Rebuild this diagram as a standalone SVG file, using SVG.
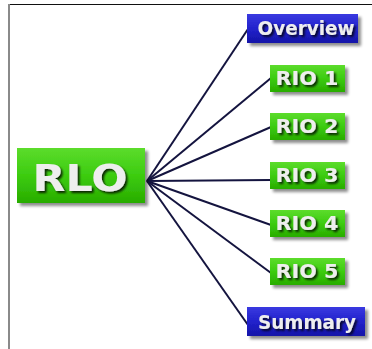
<svg xmlns="http://www.w3.org/2000/svg" width="372" height="349" viewBox="0 0 372 349">
  <defs>
    <linearGradient id="gGreen" x1="0" y1="0" x2="0" y2="1">
      <stop offset="0" stop-color="#5cdc2c"/>
      <stop offset="0.5" stop-color="#3ccc10"/>
      <stop offset="1" stop-color="#28ac00"/>
    </linearGradient>
    <linearGradient id="gBlue" x1="0" y1="0" x2="0" y2="1">
      <stop offset="0" stop-color="#3a3ae0"/>
      <stop offset="0.5" stop-color="#2222cc"/>
      <stop offset="1" stop-color="#1414a8"/>
    </linearGradient>
    <filter id="boxShadow" x="-20%" y="-30%" width="150%" height="170%">
      <feGaussianBlur in="SourceAlpha" stdDeviation="1.5"/>
      <feOffset dx="3" dy="3" result="b"/>
      <feComponentTransfer><feFuncA type="linear" slope="0.45"/></feComponentTransfer>
      <feMerge><feMergeNode/><feMergeNode in="SourceGraphic"/></feMerge>
    </filter>
    <filter id="textShadow" x="-10%" y="-30%" width="130%" height="170%">
      <feGaussianBlur in="SourceAlpha" stdDeviation="0.8"/>
      <feOffset dx="1.5" dy="1.5"/>
      <feComponentTransfer><feFuncA type="linear" slope="0.8"/></feComponentTransfer>
      <feMerge><feMergeNode/><feMergeNode in="SourceGraphic"/></feMerge>
    </filter>
  </defs>
  <style>
    .green { fill: url(#gGreen); filter: url(#boxShadow); }
    .blue { fill: url(#gBlue); filter: url(#boxShadow); }
    .lbl { font-family: "DejaVu Sans", Verdana, sans-serif; font-weight: bold; fill: #eeeeee; text-anchor: middle; filter: url(#textShadow); }
    .small { font-size: 19.5px; }
    .big { font-size: 38px; }
    .link { stroke: #14143f; stroke-width: 2; fill: none; }
  </style>

  <rect width="372" height="349" fill="#ffffff"/>
  <!-- frame edges -->
  <line x1="8" y1="4.5" x2="372" y2="4.5" stroke="#111111" stroke-width="1"/>
  <line x1="9" y1="4" x2="9" y2="349" stroke="#8a8a8a" stroke-width="2"/>

  <g id="connectors">
    <line class="link" x1="147" y1="181" x2="248" y2="29"/>
    <line class="link" x1="147" y1="181" x2="271" y2="78"/>
    <line class="link" x1="147" y1="181" x2="271" y2="127"/>
    <line class="link" x1="147" y1="181" x2="271" y2="180"/>
    <line class="link" x1="147" y1="181" x2="271" y2="225"/>
    <line class="link" x1="147" y1="181" x2="271" y2="273"/>
    <line class="link" x1="147" y1="181" x2="248" y2="325"/>
  </g>

  <g id="rlo">
    <rect class="green" x="17" y="148" width="128" height="55"/>
    <text class="lbl big" x="80" y="191" textLength="95" lengthAdjust="spacingAndGlyphs">RLO</text>
  </g>
  <g id="overview">
    <rect class="blue" x="247" y="14" width="111" height="29"/>
    <text class="lbl small" x="306" y="35" textLength="97" lengthAdjust="spacingAndGlyphs">Overview</text>
  </g>
  <g id="rio1">
    <rect class="green" x="270" y="65" width="75" height="27"/>
    <text class="lbl small" x="307" y="85" textLength="63" lengthAdjust="spacingAndGlyphs">RIO 1</text>
  </g>
  <g id="rio2">
    <rect class="green" x="270" y="113" width="75" height="27"/>
    <text class="lbl small" x="307" y="133" textLength="63" lengthAdjust="spacingAndGlyphs">RIO 2</text>
  </g>
  <g id="rio3">
    <rect class="green" x="270" y="162" width="75" height="27"/>
    <text class="lbl small" x="307" y="182" textLength="63" lengthAdjust="spacingAndGlyphs">RIO 3</text>
  </g>
  <g id="rio4">
    <rect class="green" x="270" y="210" width="75" height="27"/>
    <text class="lbl small" x="307" y="230" textLength="63" lengthAdjust="spacingAndGlyphs">RIO 4</text>
  </g>
  <g id="rio5">
    <rect class="green" x="270" y="258" width="75" height="27"/>
    <text class="lbl small" x="307" y="278" textLength="63" lengthAdjust="spacingAndGlyphs">RIO 5</text>
  </g>
  <g id="summary">
    <rect class="blue" x="247" y="307" width="118" height="29"/>
    <text class="lbl small" x="307" y="329" textLength="98" lengthAdjust="spacingAndGlyphs">Summary</text>
  </g>
</svg>
